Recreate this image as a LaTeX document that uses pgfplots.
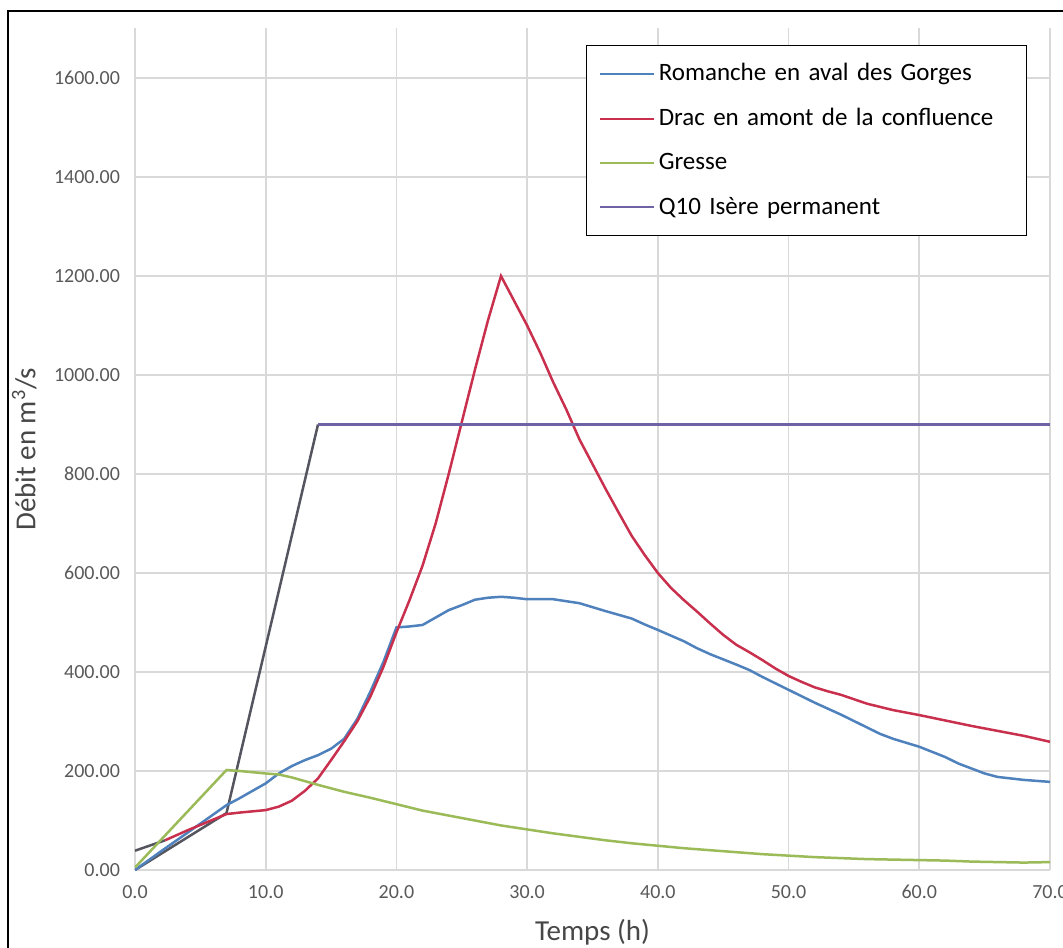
\documentclass[border=0pt]{standalone}
\usepackage{fontspec}
\setmainfont{Carlito}
\usepackage{pgfplots}
\pgfplotsset{compat=1.18}
\definecolor{cblue}{HTML}{4F81BD}
\definecolor{cred}{HTML}{C8304E}
\definecolor{cgreen}{HTML}{9BBB59}
\definecolor{cpurple}{HTML}{6F63A6}
\definecolor{cgray}{HTML}{555560}
\definecolor{gridc}{HTML}{D9D9D9}
\definecolor{tickc}{HTML}{595959}
\begin{document}
\begin{tikzpicture}
\useasboundingbox (0,0) rectangle (531.5pt,473.5pt);
\draw[line width=1pt] (4pt,-20pt) rectangle (560pt,468pt);
\begin{axis}[
  at={(67.5pt,38.5pt)}, anchor=south west,
  scale only axis, width=457.5pt, height=420.75pt,
  xmin=0, xmax=70, ymin=0, ymax=1700,
  xtick={0,10,...,70}, ytick={0,200,...,1600},
  axis x line*=bottom, axis y line*=left,
  axis line style={gridc, line width=0.8pt, -},
  major tick length=0pt,
  grid=major, major grid style={gridc, line width=0.8pt},
  /pgf/number format/assume math mode=true,
  xticklabel style={/pgf/number format/fixed, /pgf/number format/fixed zerofill, /pgf/number format/precision=1, /pgf/number format/1000 sep={}, yshift=-4pt},
  yticklabel style={/pgf/number format/fixed, /pgf/number format/fixed zerofill, /pgf/number format/precision=2, /pgf/number format/1000 sep={}, xshift=-4pt},
  ticklabel style={font=\fontsize{10}{12}\selectfont, text=tickc},
  xlabel={Temps (h)}, ylabel={Débit en m\textsuperscript{3}/s},
  label style={font=\fontsize{14.5}{17}\selectfont, text=tickc!80!black},
  xlabel style={at={(axis description cs:0.5,-0.0737)}, anchor=center},
  ylabel style={at={(axis description cs:-0.121,0.5)}, anchor=center},
  legend style={at={(0.4929,0.9804)}, anchor=north west, draw=black, line width=0.6pt,
    font=\fontsize{12.5}{15}\selectfont, inner xsep=6pt, inner ysep=7pt, row sep=8.3pt,
    nodes={text width=176pt, align=left, inner sep=2pt}},
  legend cell align=left,
  legend image code/.code={\draw[#1, line width=1.1pt] (0pt,0pt) -- (27pt,0pt);},
  every axis plot/.append style={line width=1.25pt},
]
\addplot[cgray, forget plot] coordinates {(0,0) (7,115) (14,900)};
\addplot[cgray, forget plot] coordinates {(0,39) (2.3,60)};
\addplot[cblue] coordinates {(0,0) (2,38) (4,75) (7,131) (8,145) (9,160) (10,175) (11,195) (12,210) (13,222) (14,232) (15,245) (16,265) (17,305) (18,360) (19,420) (20,490) (21,492) (22,495) (23,510) (24,525) (25,535) (26,546) (27,550) (28,552) (29,550) (30,547) (32,547) (34,539) (36,523) (38,508) (39,496) (40,485) (42,462) (43,448) (44,436) (46,415) (47,404) (48,390) (50,364) (52,338) (54,314) (56,288) (57,275) (58,265) (60,249) (62,228) (63,215) (64,205) (65,195) (66,188) (68,182) (70,178)};
\addlegendentry{Romanche en aval des Gorges}
\addplot[cred] coordinates {(2.3,60) (4,80) (7,113) (8,116) (10,121) (11,128) (12,140) (13,160) (14,185) (15,222) (16,260) (17,300) (18,350) (19,410) (20,480) (21,545) (22,615) (23,700) (24,800) (25,905) (26,1010) (27,1110) (28,1200) (29,1150) (30,1100) (31,1045) (32,985) (33,930) (34,870) (35,820) (36,770) (37,722) (38,675) (39,636) (40,600) (41,570) (42,545) (43,522) (44,498) (45,475) (46,455) (47,440) (48,424) (49,407) (50,392) (51,380) (52,369) (53,361) (54,354) (56,336) (58,323) (60,313) (62,302) (64,291) (66,281) (68,271) (70,259)};
\addlegendentry{Drac en amont de la confluence}
\addplot[cgreen] coordinates {(0,5) (7,202) (8,200) (10,195) (11,193) (12,187) (14,172) (16,158) (18,146) (20,133) (22,120) (24,110) (26,100) (28,90) (30,82) (32,74) (34,67) (36,60) (38,54) (40,49) (42,44) (44,40) (46,36) (48,32) (50,29) (52,26) (54,24) (56,22) (58,21) (60,20) (62,19) (64,17) (66,16) (68,15) (70,16)};
\addlegendentry{Gresse}
\addplot[cpurple] coordinates {(14,900) (70,900)};
\addlegendentry{Q10 Isère permanent}
\end{axis}
\end{tikzpicture}
\end{document}
